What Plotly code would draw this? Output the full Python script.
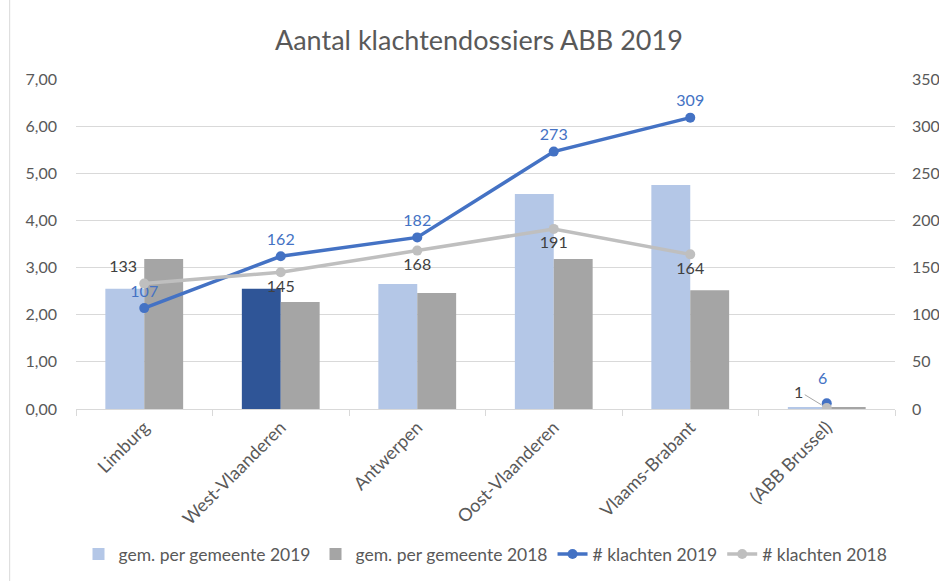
import plotly.graph_objects as go

categories = ["Limburg", "West-Vlaanderen", "Antwerpen", "Oost-Vlaanderen", "Vlaams-Brabant", "(ABB Brussel)"]
gem_2019 = [2.55, 2.55, 2.65, 4.56, 4.75, 0.04]
gem_2018 = [3.18, 2.27, 2.46, 3.18, 2.52, 0.04]
klachten_2019 = [107, 162, 182, 273, 309, 6]
klachten_2018 = [133, 145, 168, 191, 164, 1]

bar19_colors = ["#B4C7E7", "#2F5597", "#B4C7E7", "#B4C7E7", "#B4C7E7", "#B4C7E7"]
pos19 = ["top center"] * 5
pos18 = ["top left", "bottom center", "bottom center", "bottom center", "bottom center"]

FONT = "Lato, Open Sans, sans-serif"
C19 = "#4472C4"
C18 = "#BFBFBF"
n_line = 5  # the last category is not connected by the lines

fig = go.Figure()
fig.add_trace(go.Bar(x=categories, y=gem_2019, name="gem. per gemeente 2019",
                     marker=dict(color=bar19_colors, line=dict(width=0)), yaxis="y"))
fig.add_trace(go.Bar(x=categories, y=gem_2018, name="gem. per gemeente 2018",
                     marker=dict(color="#A5A5A5", line=dict(width=0)), yaxis="y"))

for vals, pos, col, txtcol, name in [
    (klachten_2019, pos19, C19, C19, "# klachten 2019"),
    (klachten_2018, pos18, C18, "#404040", "# klachten 2018"),
]:
    fig.add_trace(go.Scatter(x=categories[:n_line], y=vals[:n_line], name=name, yaxis="y2",
                             mode="lines+markers+text", text=[str(v) for v in vals[:n_line]],
                             textposition=pos, legendgroup=name,
                             textfont=dict(color=txtcol, size=16, family=FONT),
                             line=dict(color=col, width=3.5), marker=dict(size=10, color=col)))
    fig.add_trace(go.Scatter(x=categories[n_line:], y=vals[n_line:], name=name, yaxis="y2",
                             mode="markers", legendgroup=name, showlegend=False,
                             marker=dict(size=10, color=col)))

# labels for the last (unconnected) category
fig.add_annotation(x=categories[5], y=klachten_2019[5], yref="y2", text=str(klachten_2019[5]),
                   showarrow=False, xshift=-4, yshift=26, font=dict(size=16, color=C19, family=FONT))
fig.add_annotation(x=categories[5], y=klachten_2018[5], yref="y2", text=str(klachten_2018[5]),
                   showarrow=True, ax=-28, ay=-17, arrowhead=0, arrowwidth=1, arrowcolor="#A6A6A6",
                   standoff=6, font=dict(size=16, color="#404040", family=FONT))

fig.update_layout(
    width=939, height=581,
    margin=dict(l=76, r=44, t=79, b=172, autoexpand=False),
    paper_bgcolor="white", plot_bgcolor="white",
    separators=",.",
    font=dict(family=FONT, color="#595959", size=13),
    title=dict(text="Aantal klachtendossiers ABB 2019", x=0.51, xanchor="center", y=0.93, yanchor="middle",
               font=dict(size=27, color="#595959", family=FONT)),
    barmode="group", bargap=0.43, bargroupgap=0,
    xaxis=dict(type="category", tickangle=-45, showgrid=False, showline=True, linecolor="#D9D9D9",
               ticks="outside", tickson="boundaries", ticklen=6, tickcolor="#D9D9D9",
               tickfont=dict(size=18, color="#595959"), automargin=False),
    yaxis=dict(range=[0, 7], dtick=1, tickformat=".2f", showgrid=True, gridcolor="#D9D9D9",
               zeroline=False, ticks="", tickfont=dict(size=16, color="#595959"), ticklabelstandoff=18,
               automargin=False),
    yaxis2=dict(range=[0, 350], dtick=50, overlaying="y", side="right", showgrid=False,
                zeroline=False, ticks="", tickfont=dict(size=16, color="#595959"), ticklabelstandoff=16,
                automargin=False),
    legend=dict(orientation="h", x=0.5, xanchor="center", y=-0.44, yanchor="middle",
                font=dict(size=17.5, color="#595959"), traceorder="normal", itemwidth=30),
    showlegend=True,
)

fig.add_shape(type="line", xref="paper", yref="paper", x0=-0.081, x1=-0.081, y0=-0.55, y1=1.25,
              line=dict(color="#D9D9D9", width=1))

fig.write_html("out.html", config={"displayModeBar": False},
               post_script="document.body.style.margin='0';document.body.style.padding='0';")
